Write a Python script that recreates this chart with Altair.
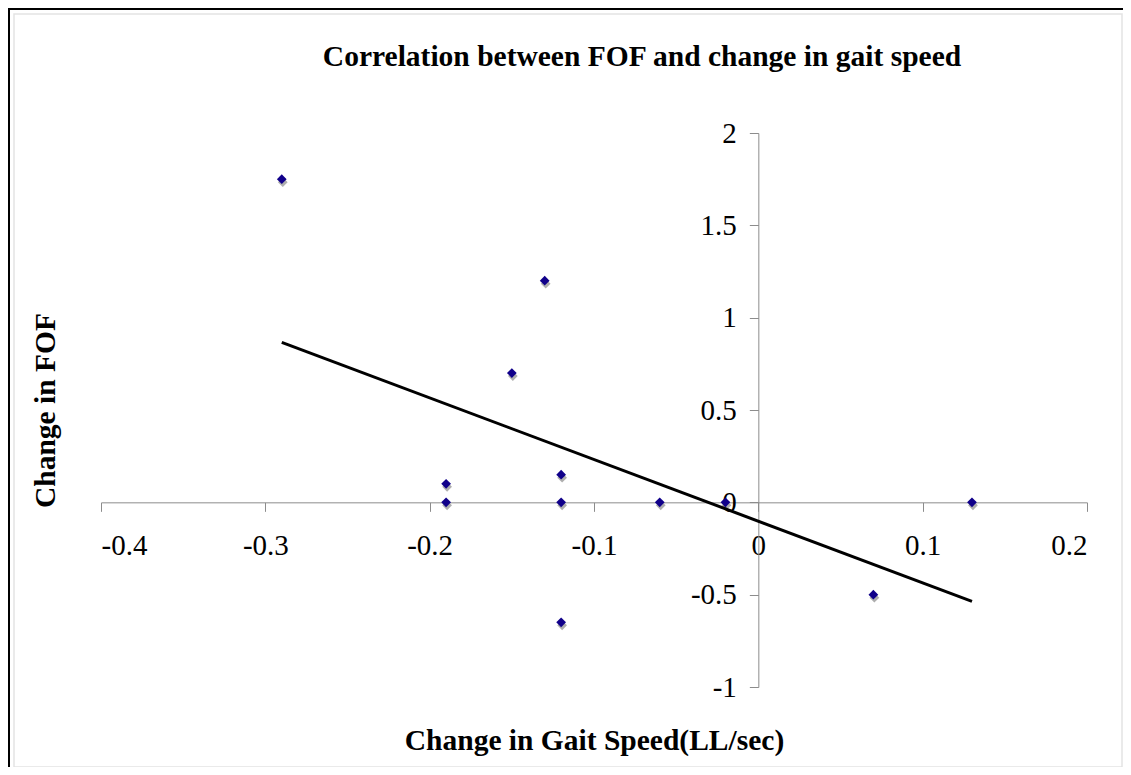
import altair as alt
import pandas as pd

# ---- data ----
gait_change = [-0.29, -0.13, -0.15, -0.19, -0.19, -0.12, -0.12, -0.06, -0.02, -0.12, 0.07, 0.13]
fof_change = [1.75, 1.2, 0.7, 0.1, 0.0, 0.15, 0.0, 0.0, 0.0, -0.65, -0.5, 0.0]
x_ticks = [-0.4, -0.3, -0.2, -0.1, 0, 0.1, 0.2]
y_ticks = [-1, -0.5, 0, 0.5, 1, 1.5, 2]
x_domain = [-0.4, 0.2]
y_domain = [-1, 2]

title_text = "Correlation between FOF and change in gait speed"
x_title = "Change in Gait Speed(LL/sec)"
y_title = "Change in FOF"

W, H = 986, 554
FONT = "Liberation Serif"
AX = "#8c8c8c"

df = pd.DataFrame({"gait": gait_change, "fof": fof_change})
one = pd.DataFrame({"label": [title_text]})

# axes cross at zero (Excel style)
x_off = -H * (0 - y_domain[0]) / (y_domain[1] - y_domain[0])
y_off = -W * (0 - x_domain[0]) / (x_domain[1] - x_domain[0])

x_scale = alt.Scale(domain=x_domain, nice=False, zero=False)
y_scale = alt.Scale(domain=y_domain, nice=False, zero=False)

x_axis = alt.Axis(
    values=x_ticks, labelExpr="datum.value + ''", offset=x_off, grid=False,
    domainColor=AX, tickColor=AX, tickSize=9, labelPadding=20,
    labelFont=FONT, labelFontSize=29, labelColor="black",
    title=x_title, titleFont=FONT, titleFontSize=29.5, titleFontWeight="bold",
    titleColor="black", titleX=W / 2, titleY=238, titleAlign="center",
    titleBaseline="middle", titleAnchor="middle",
)
y_axis = alt.Axis(
    values=y_ticks, labelExpr="datum.value + ''", offset=y_off, grid=False,
    domainColor=AX, tickColor=AX, tickSize=9, labelPadding=13,
    labelFont=FONT, labelFontSize=29, labelColor="black",
    title=y_title, titleFont=FONT, titleFontSize=29.5, titleFontWeight="bold",
    titleColor="black", titleAngle=-90, titleX=45 - 758, titleY=H / 2,
    titleAlign="center", titleBaseline="middle", titleAnchor="middle",
)

base = alt.Chart(df)

shadow = base.mark_point(
    shape="diamond", filled=True, size=95, color="#9a9a9a", opacity=0.8,
    xOffset=1, yOffset=3,
).encode(
    x=alt.X("gait:Q", scale=x_scale, axis=x_axis),
    y=alt.Y("fof:Q", scale=y_scale, axis=y_axis),
)

points = base.mark_point(
    shape="diamond", filled=True, size=95, color="#10008a", opacity=1,
).encode(x="gait:Q", y="fof:Q")

trend = base.transform_regression("gait", "fof").mark_line(
    color="black", strokeWidth=3
).encode(x="gait:Q", y="fof:Q")

title_mark = alt.Chart(one).mark_text(
    font=FONT, fontSize=29.5, fontWeight="bold", color="black",
    align="center", baseline="middle",
).encode(text="label:N", x=alt.value(642 - 101), y=alt.value(57 - 133))

frame_black_left = alt.Chart(one).mark_rule(color="black", strokeWidth=2).encode(
    x=alt.value(-92), y=alt.value(-125), y2=alt.value(H + 80))
frame_black_top = alt.Chart(one).mark_rule(color="black", strokeWidth=2).encode(
    x=alt.value(-93), x2=alt.value(W + 36), y=alt.value(-124))
frame_gray = alt.Chart(one).mark_rect(
    fill="transparent", stroke="#e3e3e3", strokeWidth=1.5
).encode(x=alt.value(-87), x2=alt.value(1021), y=alt.value(-119), y2=alt.value(634))

chart = alt.layer(
    frame_gray, frame_black_left, frame_black_top, title_mark, shadow, points, trend
).properties(
    width=W, height=H,
    autosize=alt.AutoSizeParams(type="none"),
    padding={"left": 93, "top": 125, "right": 36, "bottom": 80},
).configure_view(stroke="transparent")

chart.save("out.html", embed_options={"renderer": "svg", "actions": False})
